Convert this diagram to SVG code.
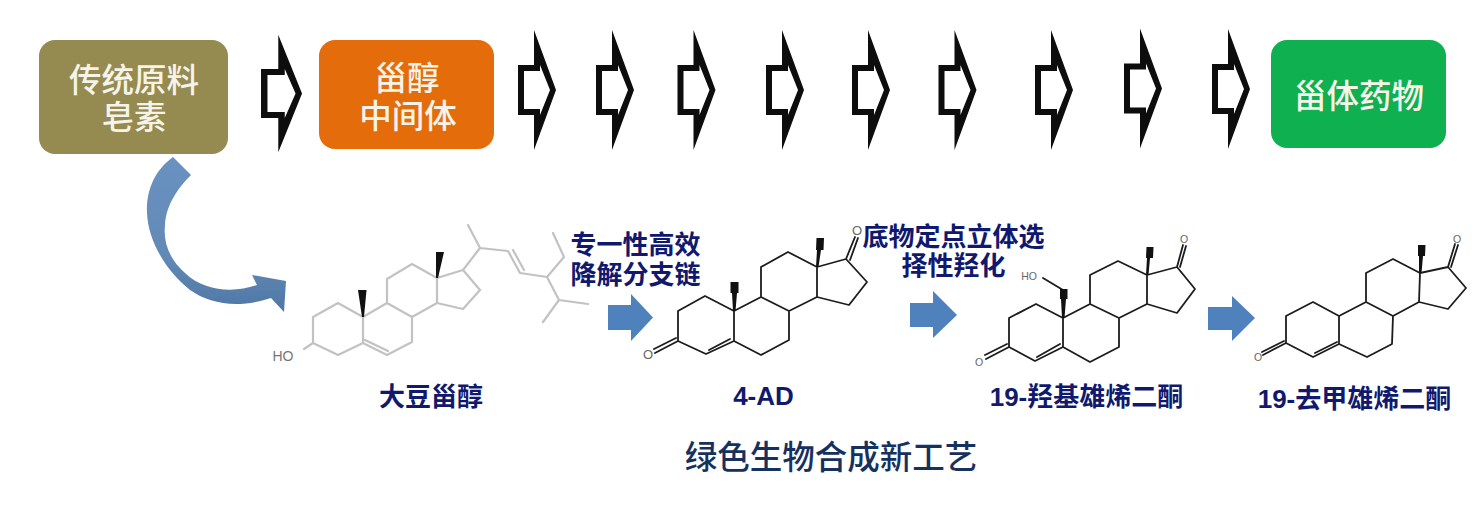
<svg xmlns="http://www.w3.org/2000/svg" width="1477" height="508" viewBox="0 0 1477 508">
<style>
text{font-family:"Liberation Sans","Noto Sans CJK SC",sans-serif;text-anchor:middle}
.bt{font-family:"Noto Sans CJK SC",sans-serif;font-size:32.5px;font-weight:500;fill:#f6f4ea}
.lb{font-size:26px;font-weight:700;fill:#10196e}
.tt{font-family:"Noto Sans CJK SC",sans-serif;font-size:32.5px;font-weight:500;fill:#17315f}
.bond{fill:none;stroke:#1c1c1c;stroke-width:1.8;stroke-linejoin:round;stroke-linecap:round}
.gray{stroke:#c2c2c2;stroke-width:2.2}
.w{fill:#111}
.o{font-size:13px;fill:#666}
.o2{font-size:10.5px;fill:#666}
.blue{fill:#4f81bd}
.open{fill:#0d0d0d;fill-rule:evenodd}
</style>
<defs>
<path id="openArrow" d="M0-25H16V-60L38 0 16 60V25H0ZM6-19V19H22V25L32 0 22-25V-19Z"/>
<linearGradient id="curve" x1="0" y1="0" x2="0" y2="1">
<stop offset="0" stop-color="#6a92c0"/><stop offset=".65" stop-color="#6289b6"/><stop offset="1" stop-color="#4f77a5"/>
</linearGradient>
</defs>

<g id="node-saponin">
<rect x="39" y="40" width="189" height="114" rx="16" fill="#958b50"/>
<text class="bt" x="134" y="92">传统原料</text>
<text class="bt" x="134" y="129">皂素</text>
</g>
<g id="node-intermediate">
<rect x="319" y="40" width="175" height="109" rx="16" fill="#e46c0a"/>
<text class="bt" x="407" y="90">甾醇</text>
<text class="bt" x="408" y="128">中间体</text>
</g>
<g id="node-drug">
<rect x="1271" y="40" width="175" height="108" rx="16" fill="#0eb04f"/>
<text class="bt" x="1359" y="108">甾体药物</text>
</g>

<g id="connectors">
<g class="open">
<use href="#openArrow" transform="translate(261 93.500) scale(1.08 .98)"/>
<use href="#openArrow" x="518" y="90"/>
<use href="#openArrow" x="596" y="90"/>
<use href="#openArrow" x="677.500" y="90"/>
<use href="#openArrow" x="766" y="90"/>
<use href="#openArrow" x="852" y="90"/>
<use href="#openArrow" x="938.500" y="90"/>
<use href="#openArrow" x="1035" y="90"/>
<use href="#openArrow" x="1124" y="88.500"/>
<use href="#openArrow" x="1212" y="89"/>
</g>
<path fill="url(#curve)" d="M173 157C155 170 146 190 147 213C148 240 165 270 190 290C210 304 238 309 271 298L284 312L286 281L252 275L257 285C235 293 205 292 185 273C170 260 163 243 165 225C166 205 178 188 191 175Z"/>
<path class="blue" d="M608 305H631V294L653 317.500 631 341V330H608Z"/>
<path class="blue" d="M910 303H933V291L957 315 933 338V327H910Z"/>
<path class="blue" d="M1208 307H1232V296L1255 318 1232 341V330H1208Z"/>
</g>

<g id="node-soy-sterol">
<path class="bond gray" d="M304 349L313 343V317L338 303L363 317V343L338 355L313 343M363 317L387 303L412 317V342L387 355L363 343M365 340L388 351M387 303V279L412 264L437 278V303L412 317M437 278L463 270L480 290L463 309L437 303M463 270L480 248L468 225M480 248L508 251L520 273L547 277L564 257L553 233M547 277L559 300L588 304M559 300L543 322M513 250L524 270"/>
<polygon class="w" points="362,317 364,317 366.500,290 358,290"/>
<polygon class="w" points="436,278 438,278 444,252 436,252"/>
<text x="283" y="361" font-size="14" fill="#777">HO</text>
</g>
<text id="label-soy" class="lb" x="431" y="406">大豆甾醇</text>

<g id="node-4ad">
<path class="bond" d="M655 353L678 341V311L705 296L734 311V341L706 354L678 341M654 349L676 338M709 350L730 339M734 311L761 297L789 311V340L761 355L734 341M761 297V267L788 252L817 267V297L789 311M817 267L846 259L867 282L849 305L817 297M846 259L855 237M850 260L858 238"/>
<polygon class="w" points="733,311 735.500,311 737,293 738.500,293 738.500,282 730.500,282 730.500,293 732,293"/>
<polygon class="w" points="816,267 818.500,267 821,250 823.500,250 824,238 816.500,238 816,250 817,250"/>
<text class="o" x="648" y="358.500">O</text>
<text class="o" x="857" y="234.500">O</text>
</g>
<text id="label-4ad" class="lb" x="763.500" y="405">4-AD</text>

<g id="node-19oh">
<path class="bond" d="M986 359L1009 347V318L1036 304L1063 318V347L1035 361L1009 347M985 355L1007 344M1037 357L1060 344M1063 318L1090 304L1119 318V347L1090 362L1063 347M1090 304V275L1118 261L1147 275V304L1119 318M1147 275L1177 267L1195 289L1177 313L1147 304M1177 267L1183 245M1180 267L1186 246M1063 290L1043 278"/>
<polygon class="w" points="1062,318 1064.500,318 1066,299 1067.500,299 1067.500,289 1060,289 1060,299 1061,299"/>
<polygon class="w" points="1146,275 1148.500,275 1150,258 1153,258 1153.500,247 1146.500,247 1146,258 1147,258"/>
<text class="o2" x="979" y="366">O</text>
<text class="o2" x="1184" y="243">O</text>
<text class="o2" x="1029" y="280">HO</text>
</g>
<text id="label-19oh" class="lb" x="1086.500" y="406">19-羟基雄烯二酮</text>

<g id="node-19nor">
<path class="bond" d="M1263 355L1286 343V316L1313 302L1339 316V344L1313 357L1286 343M1262 352L1284 341M1315 353L1337 342M1339 316L1366 302L1393 316L1392 344L1367 357L1339 344M1366 302V273L1393 259L1420 273L1419 302L1393 316M1420 273L1448 267L1466 288L1448 309L1419 302M1448 267L1455 244M1451 267L1458 245"/>
<polygon class="w" points="1419,273 1421.500,273 1423,256 1425,256 1425.500,245 1418,245 1418,256 1419,256"/>
<text class="o2" x="1258" y="361">O</text>
<text class="o2" x="1457" y="243">O</text>
</g>
<text id="label-19nor" class="lb" x="1354.500" y="408">19-去甲雄烯二酮</text>

<text id="label-step1a" class="lb" x="635.500" y="254">专一性高效</text>
<text id="label-step1b" class="lb" x="635.500" y="284">降解分支链</text>
<text id="label-step2a" class="lb" x="953.500" y="246">底物定点立体选</text>
<text id="label-step2b" class="lb" x="953.500" y="275">择性羟化</text>
<text id="title" class="tt" x="831" y="469">绿色生物合成新工艺</text>
</svg>
